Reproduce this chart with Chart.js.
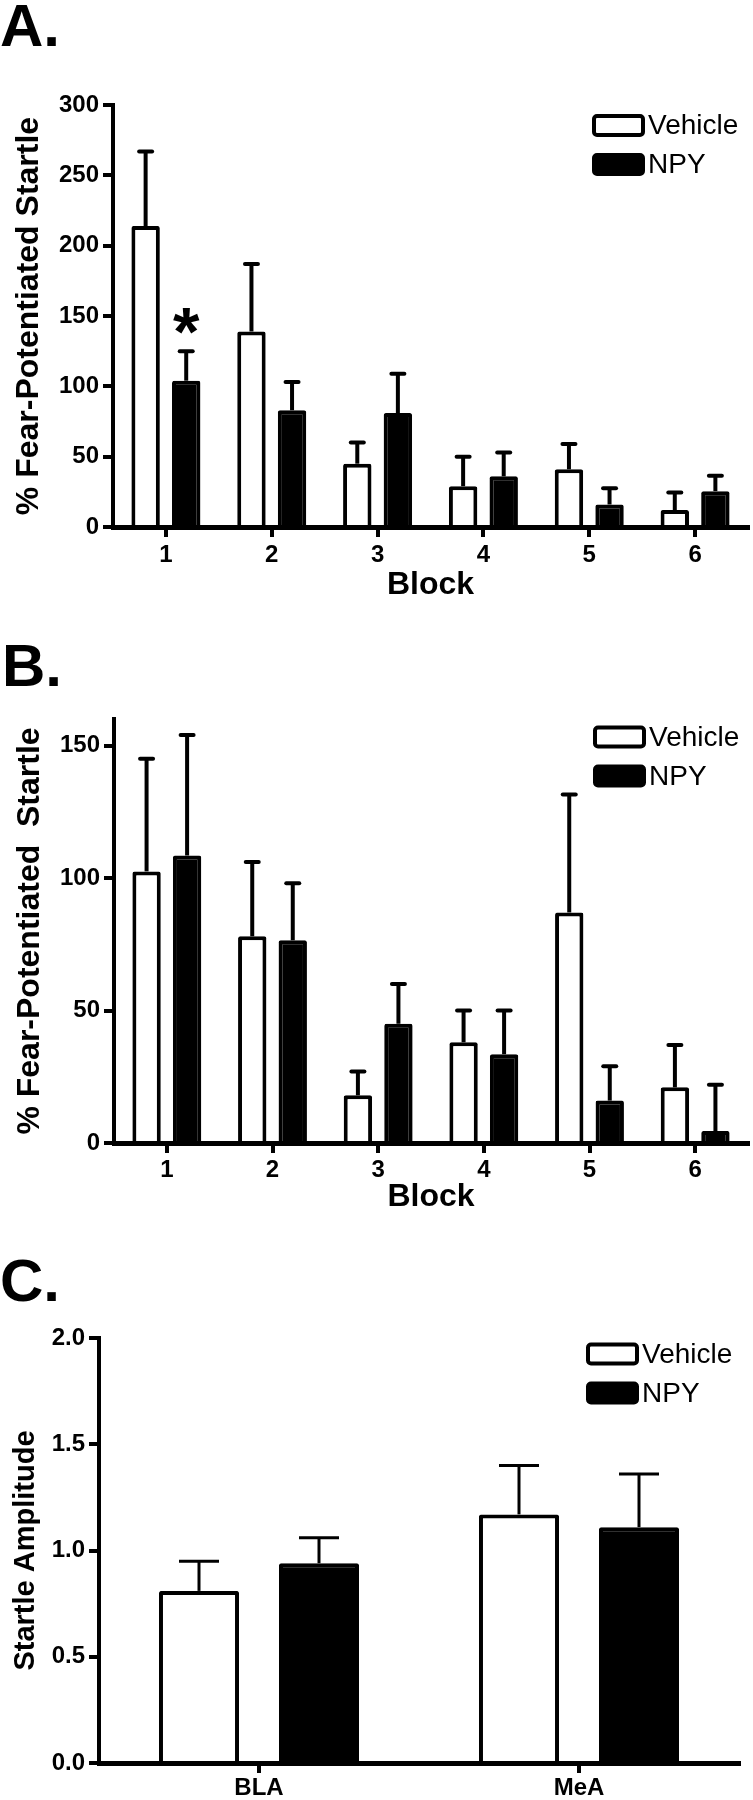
<!DOCTYPE html>
<html>
<head>
<meta charset="utf-8">
<script src="https://cdn.jsdelivr.net/npm/chart.js@4.4.0/dist/chart.umd.min.js"></script>
<style>
  html, body { margin: 0; padding: 0; background: #fff; }
  body { width: 753px; height: 1800px; position: relative; overflow: hidden; font-family: 'Liberation Sans', Arial, sans-serif; }
  .panel-label { position: absolute; left: 0; font-weight: bold; font-size: 60px; line-height: 60px; color: #000; }
  canvas { position: absolute; left: 0; }
</style>
</head>
<body>
<div class="panel-label" style="top:-4px">A.</div>
<canvas id="chartA" width="753" height="545" style="top:60px"></canvas>
<div class="panel-label" style="top:636px;left:2px">B.</div>
<canvas id="chartB" width="753" height="520" style="top:700px"></canvas>
<div class="panel-label" style="top:1251px">C.</div>
<canvas id="chartC" width="753" height="480" style="top:1320px"></canvas>

<script>
// ---------------- 데이터 ----------------
const seriesNames = ['Vehicle', 'NPY'];
const blocks = ['1', '2', '3', '4', '5', '6'];
const regions = ['BLA', 'MeA'];

// A. 평균 / SEM
const vehicleA = [214, 139, 45, 29, 41, 12];
const vehicleSemA = [53, 48, 15, 21, 18, 12.5];
const npyA = [104, 83, 81, 36, 16, 25.5];
const npySemA = [21, 20, 28, 17, 11.5, 11];
const yTicksA = [0, 50, 100, 150, 200, 250, 300];
const starsA = [{ dataset: 1, index: 0, at: 150 }]; // 별표 위치 (값 단위)

// B.
const vehicleB = [102.5, 78, 18, 38, 87, 21];
const vehicleSemB = [42.5, 28, 9, 12, 44.5, 16];
const npyB = [108.5, 76.5, 45, 33.5, 16, 4.5];
const npySemB = [45.5, 21.5, 15, 16.5, 13, 17.5];
const yTicksB = [0, 50, 100, 150];

// C.
const vehicleC = [0.81, 1.17];
const vehicleSemC = [0.14, 0.23];
const npyC = [0.94, 1.11];
const npySemC = [0.12, 0.25];
const yTicksC = [0, 0.5, 1.0, 1.5, 2.0];

const FONT = "'Liberation Sans', Arial, sans-serif";
Chart.defaults.font.family = FONT;
Chart.defaults.color = '#000';

// ---------------- 플러그인 ----------------
// 에러바 (위쪽만)
const errorBarPlugin = {
  id: 'errorBars',
  afterDatasetsDraw(chart, args, opts) {
    const { ctx } = chart;
    const yScale = chart.scales.y;
    chart.data.datasets.forEach((ds, i) => {
      const meta = chart.getDatasetMeta(i);
      meta.data.forEach((bar, j) => {
        const top = yScale.getPixelForValue(ds.data[j] + ds.sem[j]);
        ctx.save();
        ctx.strokeStyle = '#000';
        ctx.lineWidth = opts.lineWidth;
        ctx.lineCap = 'butt';
        ctx.beginPath();
        ctx.moveTo(bar.x, bar.y);
        ctx.lineTo(bar.x, top);
        ctx.stroke();
        ctx.lineCap = opts.capStyle;
        ctx.beginPath();
        ctx.moveTo(bar.x - opts.capHalf, top);
        ctx.lineTo(bar.x + opts.capHalf, top);
        ctx.stroke();
        ctx.restore();
      });
    });
  }
};

// 박스 범례 (차트 영역 안 오른쪽 위)
const boxLegendPlugin = {
  id: 'boxLegend',
  afterDraw(chart, args, opts) {
    const { ctx, chartArea } = chart;
    const left = chartArea.right - opts.fromRight;
    chart.data.datasets.forEach((ds, i) => {
      const cy = chartArea.top + opts.top + i * opts.rowGap;
      ctx.save();
      ctx.beginPath();
      ctx.roundRect(left + 2, cy - opts.boxH / 2 + 2, opts.boxW - 4, opts.boxH - 4, 3);
      ctx.fillStyle = ds.backgroundColor;
      ctx.fill();
      ctx.lineWidth = 4;
      ctx.strokeStyle = '#000';
      ctx.stroke();
      ctx.fillStyle = '#000';
      ctx.font = opts.fontSize + 'px ' + FONT;
      ctx.textBaseline = 'middle';
      ctx.textAlign = 'left';
      ctx.fillText(ds.label, left + opts.boxW + 3, cy + 1);
      ctx.restore();
    });
  }
};

// 유의성 별표
const starPlugin = {
  id: 'stars',
  afterDatasetsDraw(chart, args, opts) {
    if (!opts.marks) return;
    const { ctx } = chart;
    opts.marks.forEach(m => {
      const bar = chart.getDatasetMeta(m.dataset).data[m.index];
      const y = chart.scales.y.getPixelForValue(m.at);
      ctx.save();
      ctx.fillStyle = '#000';
      ctx.font = 'bold ' + opts.size + 'px ' + FONT;
      ctx.textAlign = 'center';
      ctx.textBaseline = 'alphabetic';
      ctx.fillText('*', bar.x, y + opts.size * 0.57);
      ctx.restore();
    });
  }
};

// ---------------- 차트 생성 ----------------
function makePanel(id, p) {
  const ctx = document.getElementById(id).getContext('2d');
  return new Chart(ctx, {
    type: 'bar',
    data: {
      labels: p.labels,
      datasets: [
        { label: seriesNames[0], data: p.vehicle, sem: p.vehicleSem, backgroundColor: '#ffffff',
          borderColor: '#000', borderWidth: p.barBorder, borderRadius: 2,
          categoryPercentage: p.catPct, barPercentage: p.barPct },
        { label: seriesNames[1], data: p.npy, sem: p.npySem, backgroundColor: '#000000',
          borderColor: '#000', borderWidth: p.barBorder, borderRadius: 2,
          categoryPercentage: p.catPct, barPercentage: p.barPct }
      ]
    },
    options: {
      responsive: false,
      animation: false,
      layout: { padding: { top: p.padTop, right: p.padRight, left: 0, bottom: 0 } },
      plugins: {
        legend: { display: false },
        tooltip: { enabled: false },
        errorBars: p.err,
        boxLegend: { fromRight: p.legendFromRight, top: p.legendTop, rowGap: 39, boxW: 53, boxH: 23, fontSize: 28 },
        stars: { marks: p.stars, size: 68 }
      },
      scales: {
        x: {
          grid: { display: true, drawOnChartArea: false, drawTicks: true, tickLength: 10, lineWidth: 4, color: '#000', offset: false },
          border: { display: true, color: '#000', width: 5 },
          ticks: { font: { size: 24, weight: 'bold', lineHeight: 1 }, padding: p.xTickPad, color: '#000' },
          title: p.xTitle ? { display: true, text: p.xTitle, font: { size: 32, weight: 'bold', lineHeight: 1 },
                               padding: { top: 0, bottom: p.xTitlePad }, color: '#000' } : { display: false },
          afterFit(s) { s.height = p.xHeight; }
        },
        y: {
          min: p.yMin, max: p.yMax,
          grid: { display: true, drawOnChartArea: false, drawTicks: true, tickLength: 10, lineWidth: 4, color: '#000' },
          border: { display: true, color: '#000', width: 4 },
          ticks: { font: { size: 24, weight: 'bold', lineHeight: 1 }, padding: 4, color: '#000',
                   callback: p.tickFmt || (v => v) },
          afterBuildTicks(s) { s.ticks = p.yTicks.map(v => ({ value: v })); },
          title: { display: true, text: p.yTitle, font: { size: p.yTitleSize, weight: 'bold', lineHeight: 1 },
                   padding: { top: p.yTitlePad, bottom: 0 }, color: '#000' },
          afterFit(s) { s.width = p.yWidth; }
        }
      }
    },
    plugins: [errorBarPlugin, boxLegendPlugin, starPlugin]
  });
}

makePanel('chartA', {
  labels: blocks, vehicle: vehicleA, vehicleSem: vehicleSemA, npy: npyA, npySem: npySemA,
  yMin: 0, yMax: 300, yTicks: yTicksA, yTitle: '% Fear-Potentiated Startle', yTitleSize: 32, yTitlePad: 13,
  xTitle: 'Block', xTitlePad: 4, xTickPad: 6, xHeight: 78, yWidth: 113, padTop: 45, padRight: 5,
  catPct: 0.767, barPct: 0.70, barBorder: 4,
  err: { lineWidth: 4, capHalf: 6.5, capStyle: 'round' },
  legendFromRight: 156, legendTop: 20.5, stars: starsA
});

makePanel('chartB', {
  labels: blocks, vehicle: vehicleB, vehicleSem: vehicleSemB, npy: npyB, npySem: npySemB,
  yMin: 0, yMax: 160, yTicks: yTicksB, yTitle: '% Fear-Potentiated  Startle', yTitleSize: 32, yTitlePad: 14,
  xTitle: 'Block', xTitlePad: 7, xTickPad: 5, xHeight: 77, yWidth: 114, padTop: 19, padRight: 5,
  catPct: 0.767, barPct: 0.70, barBorder: 4,
  err: { lineWidth: 4, capHalf: 6.5, capStyle: 'round' },
  legendFromRight: 155, legendTop: 18, stars: null
});

makePanel('chartC', {
  labels: regions, vehicle: vehicleC, vehicleSem: vehicleSemC, npy: npyC, npySem: npySemC,
  yMin: 0, yMax: 2, yTicks: yTicksC, yTitle: 'Startle Amplitude', yTitleSize: 29, yTitlePad: 11,
  tickFmt: v => v.toFixed(1),
  xTitle: null, xTickPad: 3, xHeight: 37, yWidth: 99, padTop: 18, padRight: 14,
  catPct: 0.75, barPct: 0.667, barBorder: 4,
  err: { lineWidth: 3, capHalf: 20, capStyle: 'butt' },
  legendFromRight: 153, legendTop: 16, stars: null
});
</script>
</body>
</html>
